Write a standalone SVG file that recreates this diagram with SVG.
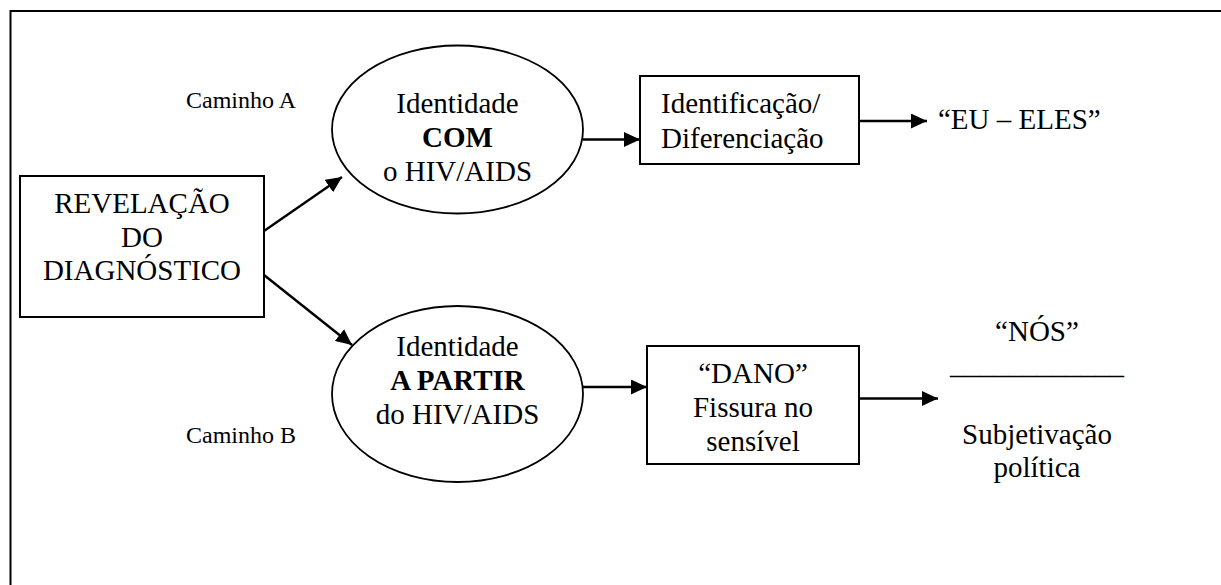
<svg xmlns="http://www.w3.org/2000/svg" width="1221" height="585" viewBox="0 0 1221 585" font-family="'Liberation Serif', 'DejaVu Serif', serif">
<style>
text{font-family:'Liberation Serif','DejaVu Serif',serif;fill:#000;font-size:29px}
.c{text-anchor:middle}
.s{font-size:24px}
.b{font-weight:bold}
.n{fill:#fff;stroke:#000;stroke-width:2}
.e{fill:#fff;stroke:#000;stroke-width:1.8}
.k{fill:none;stroke:#000;stroke-width:2.4}
</style>
<defs>
<marker id="ah" markerUnits="userSpaceOnUse" markerWidth="16" markerHeight="15" refX="16" refY="7.5" orient="auto">
<path d="M0,0 L16,7.5 L0,15 z" fill="#000"/>
</marker>
</defs>
<rect width="1221" height="585" fill="#fff"/>
<path id="frame" d="M10.5,585 V11 H1221" fill="none" stroke="#000" stroke-width="2"/>
<g id="connectors">
<line class="k" x1="264" y1="231" x2="342" y2="177" marker-end="url(#ah)"/>
<line class="k" x1="264" y1="275" x2="352" y2="345" marker-end="url(#ah)"/>
<line class="k" x1="583" y1="139.5" x2="640" y2="139.5" marker-end="url(#ah)"/>
<line class="k" x1="859" y1="121" x2="927" y2="121" marker-end="url(#ah)"/>
<line class="k" x1="583" y1="387" x2="647" y2="387" marker-end="url(#ah)"/>
<line class="k" x1="859" y1="398.5" x2="938" y2="398.5" marker-end="url(#ah)"/>
</g>
<g id="caminhoA"><text class="s" x="186" y="108">Caminho A</text></g>
<g id="caminhoB"><text class="s" x="186" y="443">Caminho B</text></g>
<g id="revelacao">
<rect class="n" x="20" y="176" width="244" height="141"/>
<text class="c" x="142" y="213">REVELAÇÃO</text>
<text class="c" x="142" y="247">DO</text>
<text class="c" x="142" y="280">DIAGNÓSTICO</text>
</g>
<g id="identidadeCom">
<ellipse class="e" cx="457.5" cy="129.5" rx="125.5" ry="84"/>
<text class="c" x="457.5" y="113">Identidade</text>
<text class="c b" x="457.5" y="147">COM</text>
<text class="c" x="457.5" y="181">o HIV/AIDS</text>
</g>
<g id="identificacao">
<rect class="n" x="640" y="76" width="219" height="88"/>
<text x="661" y="113">Identificação/</text>
<text x="661" y="147.5">Diferenciação</text>
</g>
<g id="euEles"><text x="938" y="129">“EU – ELES”</text></g>
<g id="identidadeApartir">
<ellipse class="e" cx="457.5" cy="394" rx="125.5" ry="88"/>
<text class="c" x="457.5" y="356">Identidade</text>
<text class="c b" x="457.5" y="390">A PARTIR</text>
<text class="c" x="457.5" y="424">do HIV/AIDS</text>
</g>
<g id="dano">
<rect class="n" x="647" y="346" width="212" height="118"/>
<text class="c" x="753" y="383">“DANO”</text>
<text class="c" x="753" y="417">Fissura no</text>
<text class="c" x="753" y="451">sensível</text>
</g>
<g id="nos">
<text class="c" x="1037" y="341">“NÓS”</text>
<text class="c" x="1037" y="374">____________</text>
<text class="c" x="1037" y="444">Subjetivação</text>
<text class="c" x="1037" y="477">política</text>
</g>
</svg>
